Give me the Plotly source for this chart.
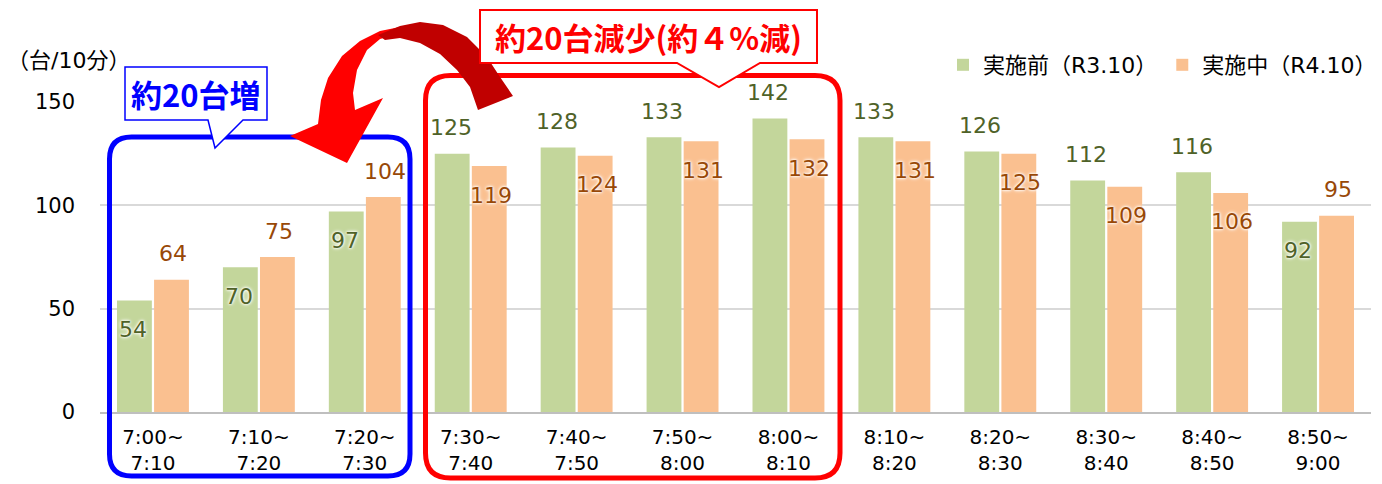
import plotly.graph_objects as go

# ---- data ----
categories = ["7:00~<br>7:10", "7:10~<br>7:20", "7:20~<br>7:30", "7:30~<br>7:40",
              "7:40~<br>7:50", "7:50~<br>8:00", "8:00~<br>8:10", "8:10~<br>8:20",
              "8:20~<br>8:30", "8:30~<br>8:40", "8:40~<br>8:50", "8:50~<br>9:00"]
before_vals = [54, 70, 97, 125, 128, 133, 142, 133, 126, 112, 116, 92]
during_vals = [64, 75, 104, 119, 124, 131, 132, 131, 125, 109, 106, 95]
before_name = "実施前（R3.10）"
during_name = "実施中（R4.10）"
y_ticks = [0, 50, 100, 150]
y_title = "（台/10分）"
callout_blue = "約20台増"
callout_red = "約20台減少(約４%減)"

# label placement (style): True = above bar top, False = inside below top
before_label_above = [False, False, False, True, True, True, True, True, True, True, True, False]
during_label_above = [True, True, True, False, False, False, False, False, False, False, False, True]

# ---- layout geometry ----
W, H = 1382, 484
ML, MR, MT, MB = 100, 11, 102, 72
PW, PH = W - ML - MR, H - MT - MB
CAT_W = PW / len(categories)

def px(x, y):
    return (x - ML) / PW, (H - MB - y) / PH

def poly_path(pts, close=True):
    s = ""
    for i, (x, y) in enumerate(pts):
        a, b = px(x, y)
        s += ("M" if i == 0 else "L") + f"{a:.5f},{b:.5f} "
    return s + ("Z" if close else "")

def rrect_path(x0, y0, x1, y1, r):
    def p(x, y):
        a, b = px(x, y)
        return f"{a:.5f},{b:.5f}"
    return (f"M{p(x0 + r, y0)} L{p(x1 - r, y0)} Q{p(x1, y0)} {p(x1, y0 + r)} "
            f"L{p(x1, y1 - r)} Q{p(x1, y1)} {p(x1 - r, y1)} L{p(x0 + r, y1)} "
            f"Q{p(x0, y1)} {p(x0, y1 - r)} L{p(x0, y0 + r)} Q{p(x0, y0)} {p(x0 + r, y0)} Z")

GREEN, ORANGE = "#C3D69B", "#FAC090"
GREEN_TXT, ORANGE_TXT = "#4F6228", "#984807"
LATIN = "DejaVu Sans, Noto Sans CJK JP, sans-serif"
CJK = "Noto Sans CJK JP, DejaVu Sans, sans-serif"

fig = go.Figure()
fig.add_trace(go.Bar(x=categories, y=before_vals, name=before_name,
                     marker=dict(color=GREEN, line=dict(width=0))))
fig.add_trace(go.Bar(x=categories, y=during_vals, name=during_name,
                     marker=dict(color=ORANGE, line=dict(width=0))))

shadow = "0px 0px 2px white, 0px 0px 3px white, 0px 0px 4px white"
annotations = []
for i, c in enumerate(categories):
    for vals, above, off, col in ((before_vals, before_label_above, -0.19, GREEN_TXT),
                                  (during_vals, during_label_above, 0.19, ORANGE_TXT)):
        annotations.append(dict(
            x=c, y=vals[i], xref="x", yref="y", text=str(vals[i]), showarrow=False,
            xanchor="center", yanchor="middle",
            xshift=off * CAT_W, yshift=26 if above[i] else -29,
            font=dict(family=LATIN, size=22, color=col, shadow=shadow)))

# y axis title
annotations.append(dict(x=px(68, 0)[0], y=px(0, 61)[1], xref="paper", yref="paper",
                        xanchor="center", yanchor="middle",
                        text=y_title, showarrow=False,
                        font=dict(family=LATIN, size=22, color="#000")))

shapes = []
# rounded boxes
shapes.append(dict(type="path", xref="paper", yref="paper",
                   path=rrect_path(109.5, 137, 410, 476, 22),
                   line=dict(color="#0000FF", width=5), layer="above"))
shapes.append(dict(type="path", xref="paper", yref="paper",
                   path=rrect_path(425.5, 75.5, 840, 478, 25),
                   line=dict(color="#FF0000", width=5), layer="above"))
# curved arrow - bright part
bright = [(405, 26), (380, 31), (360, 41), (342, 56), (328, 78), (321, 100), (318, 124),
          (290, 136), (347, 163), (383, 98), (355, 110), (353, 93), (357, 70),
          (367, 50), (380, 39), (398, 34)]
shapes.append(dict(type="path", xref="paper", yref="paper", path=poly_path(bright),
                   fillcolor="#FF0000", line=dict(width=0), layer="above"))
# curved arrow - dark part
dark = [(378, 35), (400, 26), (420, 22), (443, 25), (467, 37), (487, 57), (500, 77),
        (513, 96), (478, 110), (470, 87), (457, 70), (440, 54), (420, 43), (400, 38),
        (385, 40)]
shapes.append(dict(type="path", xref="paper", yref="paper", path=poly_path(dark),
                   fillcolor="#C00000", line=dict(width=0), layer="above"))
# callouts
shapes.append(dict(type="path", xref="paper", yref="paper",
                   path=poly_path([(125, 67), (267, 67), (267, 120), (243, 120), (215, 148),
                                   (208, 120), (125, 120)]),
                   fillcolor="white", line=dict(color="#0000FF", width=1.5), layer="above"))
shapes.append(dict(type="path", xref="paper", yref="paper",
                   path=poly_path([(480, 10), (817, 10), (817, 63), (760, 63), (719, 87),
                                   (677, 63), (480, 63)]),
                   fillcolor="white", line=dict(color="#FF0000", width=2), layer="above"))

annotations.append(dict(x=px(196, 0)[0], y=px(0, 94)[1], xref="paper", yref="paper",
                        xanchor="center", yanchor="middle",
                        text=f"<b>{callout_blue}</b>", showarrow=False,
                        font=dict(family=CJK, size=31, color="#0000FF")))
annotations.append(dict(x=px(648, 0)[0], y=px(0, 37)[1], xref="paper", yref="paper",
                        xanchor="center", yanchor="middle",
                        text=f"<b>{callout_red}</b>", showarrow=False,
                        font=dict(family=CJK, size=31, color="#FF0000")))

fig.update_layout(
    width=W, height=H, margin=dict(l=ML, r=MR, t=MT, b=MB, autoexpand=False),
    paper_bgcolor="white", plot_bgcolor="white",
    barmode="group", bargap=0.3, bargroupgap=0.06,
    showlegend=True,
    legend=dict(orientation="h", xref="container", yref="container",
                x=1.0, xanchor="right", y=1 - 65 / H, yanchor="middle",
                font=dict(family=LATIN, size=22, color="#000"), bgcolor="rgba(0,0,0,0)",
                itemwidth=30, traceorder="normal"),
    xaxis=dict(showgrid=False, showline=True, linecolor="#BFBFBF", linewidth=2,
               ticks="", tickfont=dict(family=LATIN, size=20, color="#000"),
               ticklabelstandoff=6, automargin=False, fixedrange=True),
    yaxis=dict(range=[0, 150], tickvals=y_ticks, showgrid=True, gridcolor="#D9D9D9",
               gridwidth=2, zeroline=False, showline=False, ticks="",
               tickfont=dict(family=LATIN, size=21, color="#000"),
               ticklabelstandoff=24, automargin=False, fixedrange=True),
    shapes=shapes, annotations=annotations,
)

fig.write_html("out.html", config={"displayModeBar": False},
               post_script="document.body.style.margin='0';document.body.style.padding='0';")
